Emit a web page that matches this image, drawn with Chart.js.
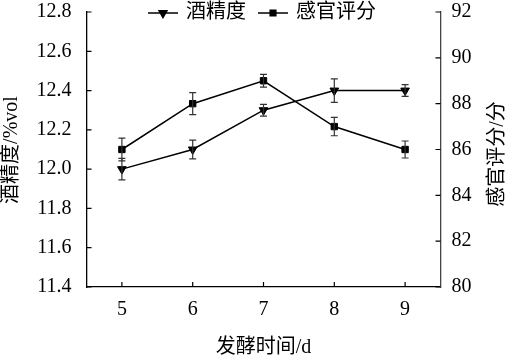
<!DOCTYPE html>
<html>
<head>
<meta charset="utf-8">
<script src="https://cdn.jsdelivr.net/npm/chart.js@4/dist/chart.umd.min.js"></script>
<style>
    html, body { margin: 0; padding: 0; background: #fff; }
    #wrap { width: 513px; height: 363px; position: relative; }
</style>
</head>
<body>
<div id="wrap"><canvas id="c"></canvas></div>
<script>
const days = [5, 6, 7, 8, 9];
const alcohol = [12.0, 12.1, 12.3, 12.4, 12.4];
const alcoholErr = [0.055, 0.048, 0.03, 0.06, 0.03];
const score = [86.0, 88.0, 89.0, 87.0, 86.0];
const scoreErr = [0.5, 0.48, 0.28, 0.4, 0.37];
const leftTicks = [11.4, 11.6, 11.8, 12.0, 12.2, 12.4, 12.6, 12.8];
const rightTicks = [80, 82, 84, 86, 88, 90, 92];

const serif = '"Liberation Serif", "Times New Roman", serif';
const cjk = '"Liberation Serif", "Noto Sans CJK SC", serif';

// error bars drawn from the arrays through the scales
const errorBars = {
    id: 'errorBars',
    afterDatasetsDraw(chart) {
        const ctx = chart.ctx;
        const x = chart.scales.x;
        const sets = [
            { vals: alcohol, errs: alcoholErr, y: chart.scales.y },
            { vals: score, errs: scoreErr, y: chart.scales.y1 },
        ];
        ctx.save();
        ctx.strokeStyle = '#333';
        ctx.lineWidth = 1.2;
        sets.forEach((s) => {
            s.vals.forEach((v, i) => {
                const px = x.getPixelForValue(days[i]);
                const top = s.y.getPixelForValue(v + s.errs[i]);
                const bot = s.y.getPixelForValue(v - s.errs[i]);
                ctx.beginPath();
                ctx.moveTo(px, top); ctx.lineTo(px, bot);
                ctx.moveTo(px - 3.5, top); ctx.lineTo(px + 3.5, top);
                ctx.moveTo(px - 3.5, bot); ctx.lineTo(px + 3.5, bot);
                ctx.stroke();
            });
        });
        ctx.restore();
    },
};

// inward tick marks, axis titles, legend
const decor = {
    id: 'decor',
    afterDraw(chart) {
        const ctx = chart.ctx;
        const { x, y, y1 } = chart.scales;
        const a = chart.chartArea;
        ctx.save();
        ctx.strokeStyle = '#000';
        ctx.lineWidth = 1.2;
        ctx.beginPath();
        leftTicks.forEach((v) => {
            const py = y.getPixelForValue(v);
            ctx.moveTo(a.left, py); ctx.lineTo(a.left + 5, py);
        });
        rightTicks.forEach((v) => {
            const py = y1.getPixelForValue(v);
            ctx.moveTo(a.right, py); ctx.lineTo(a.right - 5, py);
        });
        days.forEach((v) => {
            const px = x.getPixelForValue(v);
            ctx.moveTo(px, a.bottom); ctx.lineTo(px, a.bottom - 5);
        });
        ctx.stroke();

        ctx.fillStyle = '#000';
        ctx.font = '20px ' + cjk;
        ctx.textAlign = 'center';
        ctx.textBaseline = 'middle';
        ctx.fillText('发酵时间/d', (a.left + a.right) / 2, 348);

        ctx.save();
        ctx.translate(12, 150);
        ctx.rotate(-Math.PI / 2);
        ctx.fillText('酒精度/%vol', 0, 0);
        ctx.restore();

        ctx.save();
        ctx.translate(498, 154);
        ctx.rotate(-Math.PI / 2);
        ctx.fillText('感官评分/分', 0, 0);
        ctx.restore();

        // legend
        const ly = 13;
        const items = [
            { x0: 148, label: '酒精度', style: 'triangle', rot: 180, r: 4.5 },
            { x0: 258, label: '感官评分', style: 'rect', rot: 0, r: 4 },
        ];
        items.forEach((it) => {
            ctx.strokeStyle = '#000';
            ctx.lineWidth = 1.5;
            ctx.beginPath();
            ctx.moveTo(it.x0, ly); ctx.lineTo(it.x0 + 30, ly);
            ctx.stroke();
            Chart.helpers.drawPoint(ctx, { pointStyle: it.style, rotation: it.rot, radius: it.r, borderWidth: 1 }, it.x0 + 15, ly);
            ctx.fillStyle = '#000';
            ctx.textAlign = 'left';
            ctx.fillText(it.label, it.x0 + 38, ly);
        });
        ctx.restore();
    },
};

const noPad = (s) => { s.paddingTop = 0; s.paddingBottom = 0; };

new Chart(document.getElementById('c'), {
    type: 'line',
    data: {
        datasets: [
            {
                label: '酒精度',
                data: days.map((d, i) => ({ x: d, y: alcohol[i] })),
                yAxisID: 'y',
                borderColor: '#000',
                backgroundColor: '#000',
                borderWidth: 1.5,
                pointStyle: 'triangle',
                pointRotation: 180,
                pointRadius: 5,
                pointBorderWidth: 1,
                tension: 0,
            },
            {
                label: '感官评分',
                data: days.map((d, i) => ({ x: d, y: score[i] })),
                yAxisID: 'y1',
                borderColor: '#000',
                backgroundColor: '#000',
                borderWidth: 1.5,
                pointStyle: 'rect',
                pointRadius: 4.5,
                pointBorderWidth: 1,
                tension: 0,
            },
        ],
    },
    options: {
        responsive: true,
        maintainAspectRatio: false,
        animation: false,
        layout: { padding: { top: 12, left: 0, right: 0, bottom: 0 } },
        plugins: { legend: { display: false }, tooltip: { enabled: false } },
        scales: {
            x: {
                type: 'linear',
                min: 4.5,
                max: 9.5,
                afterBuildTicks: (s) => { s.ticks = days.map((v) => ({ value: v })); },
                afterFit: (s) => { s.height = 76; s.paddingLeft = 0; s.paddingRight = 0; },
                grid: { drawOnChartArea: false, drawTicks: false },
                border: { display: true, color: '#000', width: 1.3 },
                ticks: { color: '#000', font: { family: serif, size: 20 }, padding: 11 },
            },
            y: {
                position: 'left',
                min: 11.4,
                max: 12.8,
                afterBuildTicks: (s) => { s.ticks = leftTicks.map((v) => ({ value: v })); },
                afterFit: (s) => { s.width = 86.5; noPad(s); },
                grid: { drawOnChartArea: false, drawTicks: false },
                border: { display: true, color: '#000', width: 1.3 },
                ticks: { color: '#000', font: { family: serif, size: 20 }, padding: 15, callback: (v) => Number(v).toFixed(1) },
            },
            y1: {
                position: 'right',
                min: 80,
                max: 92,
                afterBuildTicks: (s) => { s.ticks = rightTicks.map((v) => ({ value: v })); },
                afterFit: (s) => { s.width = 72.5; noPad(s); },
                grid: { drawOnChartArea: false, drawTicks: false },
                border: { display: true, color: '#444', width: 1.3 },
                ticks: { color: '#000', font: { family: serif, size: 20 }, padding: 11 },
            },
        },
    },
    plugins: [errorBars, decor],
});
</script>
</body>
</html>
